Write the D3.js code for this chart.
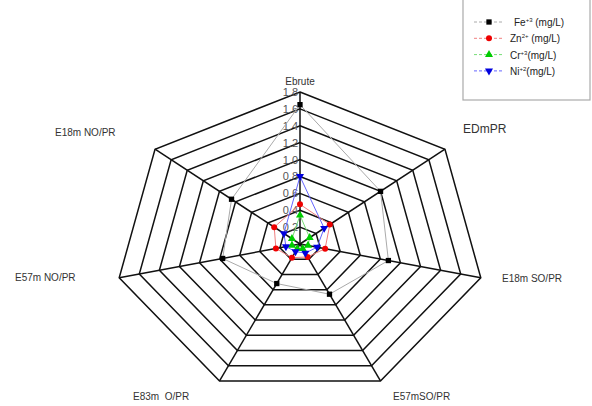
<!DOCTYPE html>
<html><head><meta charset="utf-8">
<script src="https://cdn.jsdelivr.net/npm/d3@7"></script>
<style>body{margin:0;background:#fff}svg{display:block}text{font-family:"Liberation Sans",Arial,sans-serif;white-space:pre}</style>
</head><body>
<svg id="c" width="592" height="406"></svg>
<script>
const categories = ["Ebrute","EDmPR","E18m SO/PR","E57mSO/PR","E83m  O/PR","E57m NO/PR","E18m NO/PR"];
const feValues = [1.65, 1.0, 0.88, 0.66, 0.52, 0.77, 0.85];
const znValues = [0.47, 0.37, 0.25, 0.17, 0.18, 0.24, 0.32];
const crValues = [0.34, 0.12, 0.08, 0.06, 0.06, 0.08, 0.10];
const niValues = [0.80, 0.30, 0.17, 0.12, 0.10, 0.14, 0.20];
const tickValues = [0.2,0.4,0.6,0.8,1.0,1.2,1.4,1.6,1.8];
const tickLabels = ["0.2","0.4","0.6","0.8","1.0","1.2","1.4","1.6","1.8"];

const svg = d3.select("#c");
const cx = 300, cy = 244, sx = 1.22;
const r = d3.scaleLinear().domain([0,1.8]).range([0,152]);
const ang = d3.scaleLinear().domain([0,categories.length]).range([0,2*Math.PI]);
const pt = (i,v) => [cx + sx*r(v)*Math.sin(ang(i)), cy - r(v)*Math.cos(ang(i))];

// rings
const g = svg.append("g");
tickValues.forEach(t => {
  g.append("path")
    .attr("d", d3.line()(categories.map((c,i)=>pt(i,t))) + "Z")
    .attr("fill","none").attr("stroke","#111").attr("stroke-width",1.5);
});
// spokes
categories.forEach((c,i)=>{
  const [x,y] = pt(i,1.8);
  g.append("line").attr("x1",cx).attr("y1",cy).attr("x2",x).attr("y2",y)
    .attr("stroke","#111").attr("stroke-width",1.5);
});
// tick labels
tickValues.forEach((t,k)=>{
  const [x,y]=pt(0,t);
  svg.append("text").attr("x",x-2).attr("y",y+4).attr("text-anchor","end")
    .attr("font-size",11).attr("fill","#555").text(tickLabels[k]);
});

// axis labels
const labelPos = [
  {x:300,y:85,a:"middle",s:10},
  {x:463,y:133,a:"start",s:12},
  {x:502,y:282,a:"start",s:10},
  {x:393,y:400,a:"start",s:10},
  {x:133,y:400,a:"start",s:10},
  {x:15,y:281,a:"start",s:10},
  {x:55,y:136,a:"start",s:10}
];
categories.forEach((c,i)=>{
  const p=labelPos[i];
  svg.append("text").attr("x",p.x).attr("y",p.y).attr("text-anchor",p.a)
    .attr("font-size",p.s).attr("fill","#333").text(c);
});

const series = [
  {name:"Fe", sup:"+3", rest:" (mg/L)", vals:feValues, line:"#aaa", mark:"#000", sym:d3.symbolSquare},
  {name:"Zn", sup:"2+", rest:" (mg/L)", vals:znValues, line:"#f08080", mark:"#e00", sym:d3.symbolCircle},
  {name:"Cr", sup:"+3", rest:"(mg/L)", vals:crValues, line:"#7d7", mark:"#0c0", sym:d3.symbolTriangle},
  {name:"Ni", sup:"+2", rest:"(mg/L)", vals:niValues, line:"#66f", mark:"#00d", sym:d3.symbolTriangle, flip:true}
];
series.forEach(s=>{
  const pts = s.vals.map((v,i)=>pt(i,v));
  svg.append("path").attr("d", d3.line()(pts)+"Z").attr("fill","none")
    .attr("stroke",s.line).attr("stroke-width",1);
  pts.forEach(p=>{
    svg.append("path").attr("d", d3.symbol().type(s.sym).size(28)())
      .attr("transform",`translate(${p[0]},${p[1]})${s.flip?" rotate(180)":""}`)
      .attr("fill",s.mark);
  });
});

// legend
svg.append("rect").attr("x",463).attr("y",-2).attr("width",127).attr("height",102)
  .attr("fill","#fff").attr("stroke","#aaa").attr("stroke-width",1.2);
series.forEach((s,k)=>{
  const y = 22 + k*16.3;
  svg.append("line").attr("x1",474).attr("x2",503).attr("y1",y).attr("y2",y)
    .attr("stroke",s.line).attr("stroke-dasharray","3,2").attr("stroke-width",1);
  svg.append("path").attr("d", d3.symbol().type(s.sym).size(28)())
    .attr("transform",`translate(489,${y})${s.flip?" rotate(180)":""}`).attr("fill",s.mark);
  const t = svg.append("text").attr("x", k===0?514:510).attr("y",y+4).attr("font-size",10).attr("fill","#222");
  t.append("tspan").text(s.name);
  t.append("tspan").attr("dy",-4).attr("font-size",6).text(s.sup);
  t.append("tspan").attr("dy",4).text(s.rest);
});
</script>
</body></html>
